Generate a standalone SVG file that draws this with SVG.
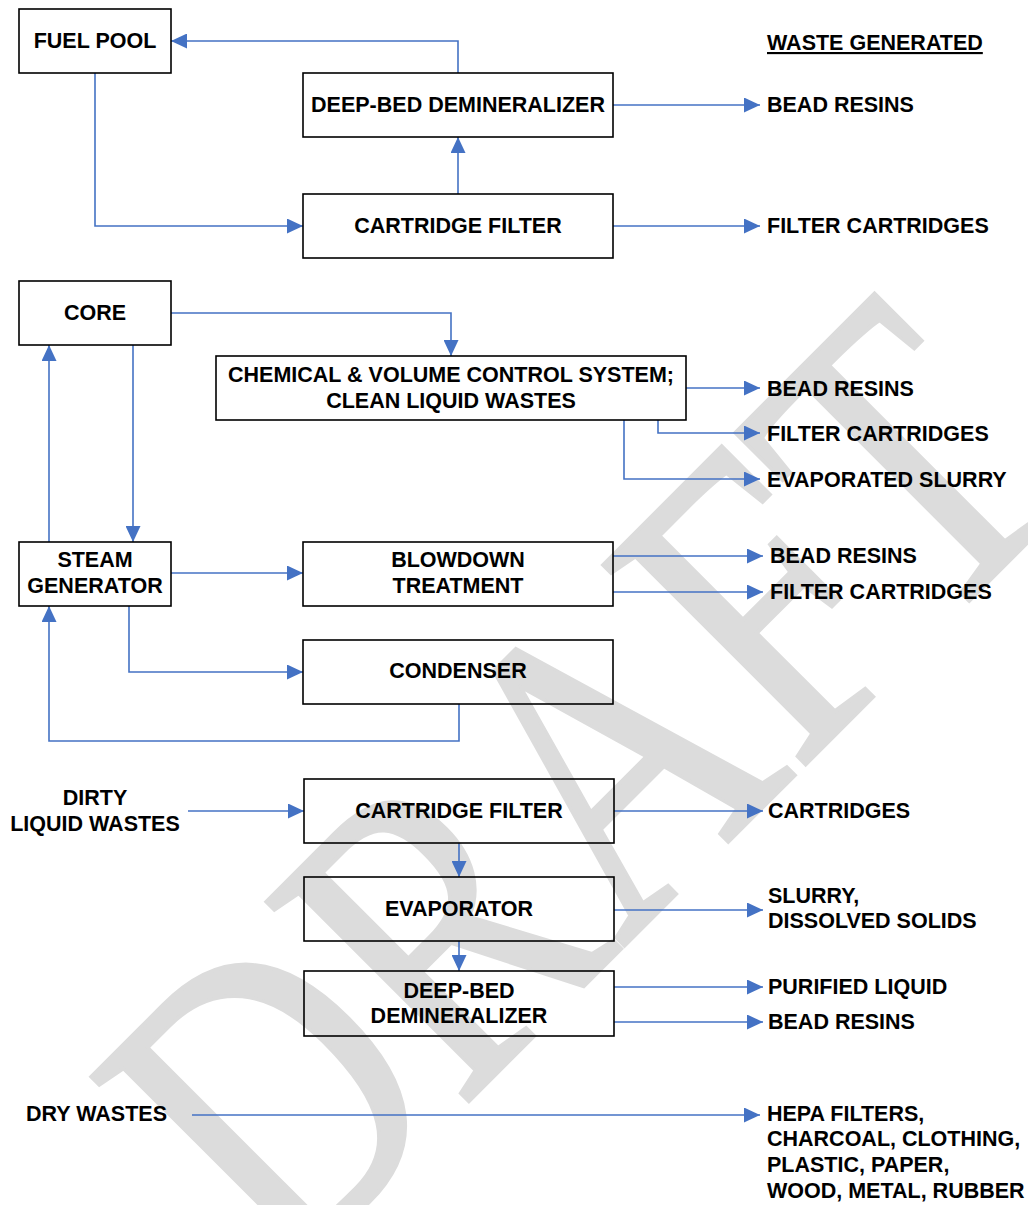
<svg xmlns="http://www.w3.org/2000/svg" width="1028" height="1205" viewBox="0 0 1028 1205">
<style>
.box{fill:none;stroke:#000;stroke-width:1.6}
.lbl{font-family:"Liberation Sans",Arial,sans-serif;font-weight:bold;font-size:21.5px;fill:#000}
.c{text-anchor:middle}
.conn path{fill:none;stroke:#4472C4;stroke-width:1.6;marker-end:url(#arr)}
.wm{font-family:"Liberation Serif","Times New Roman",serif;font-size:434px;fill:#dcdcdc;stroke:#dcdcdc;stroke-width:4}
</style>
<defs>
<marker id="arr" markerUnits="userSpaceOnUse" markerWidth="16" markerHeight="15" refX="16" refY="7.5" orient="auto">
<path d="M0,0 L16,7.5 L0,15 z" fill="#4472C4"/>
</marker>
</defs>
<rect width="1028" height="1205" fill="#fff"/>
<g id="watermark">
<text class="wm" transform="translate(285,1285) rotate(-45) scale(0.79,1)">DRAFT</text>
</g>
<g id="connectors" class="conn">
<path d="M458,73 V41 H171"/>
<path d="M95,73 V226 H303"/>
<path d="M458,194 V137"/>
<path d="M613,105 H760"/>
<path d="M613,226 H760"/>
<path d="M171,313 H451 V356"/>
<path d="M133,345 V542"/>
<path d="M49,542 V345"/>
<path d="M686,388 H760"/>
<path d="M658,420 V433 H760"/>
<path d="M624,420 V479 H760"/>
<path d="M171,573 H303"/>
<path d="M613,556 H763"/>
<path d="M613,592 H763"/>
<path d="M129,606 V672 H303"/>
<path d="M459,704 V741 H49 V606"/>
<path d="M188,811 H304"/>
<path d="M614,811 H763"/>
<path d="M459,843 V877"/>
<path d="M614,910 H763"/>
<path d="M459,941 V971"/>
<path d="M614,987 H763"/>
<path d="M614,1022 H763"/>
<path d="M192,1115 H760"/>
</g>
<g id="fuel-pool"><rect class="box" x="19" y="9" width="152" height="64"/><text class="lbl c" x="95" y="48">FUEL POOL</text></g>
<g id="waste-generated"><text class="lbl" x="767" y="50" text-decoration="underline">WASTE GENERATED</text></g>
<g id="deep-bed-1"><rect class="box" x="303" y="73" width="310" height="64"/><text class="lbl c" x="458" y="112">DEEP-BED DEMINERALIZER</text></g>
<g id="out-bead-1"><text class="lbl" x="767" y="112">BEAD RESINS</text></g>
<g id="cartridge-filter-1"><rect class="box" x="303" y="194" width="310" height="64"/><text class="lbl c" x="458" y="233">CARTRIDGE FILTER</text></g>
<g id="out-filter-1"><text class="lbl" x="767" y="233">FILTER CARTRIDGES</text></g>
<g id="core"><rect class="box" x="19" y="281" width="152" height="64"/><text class="lbl c" x="95" y="320">CORE</text></g>
<g id="cvcs"><rect class="box" x="216" y="356" width="470" height="64"/><text class="lbl c" x="451" y="382">CHEMICAL &amp; VOLUME CONTROL SYSTEM;</text><text class="lbl c" x="451" y="408">CLEAN LIQUID WASTES</text></g>
<g id="out-bead-2"><text class="lbl" x="767" y="396">BEAD RESINS</text></g>
<g id="out-filter-2"><text class="lbl" x="767" y="441">FILTER CARTRIDGES</text></g>
<g id="out-slurry"><text class="lbl" x="767" y="487">EVAPORATED SLURRY</text></g>
<g id="steam-generator"><rect class="box" x="19" y="542" width="152" height="64"/><text class="lbl c" x="95" y="567">STEAM</text><text class="lbl c" x="95" y="593">GENERATOR</text></g>
<g id="blowdown"><rect class="box" x="303" y="542" width="310" height="64"/><text class="lbl c" x="458" y="567">BLOWDOWN</text><text class="lbl c" x="458" y="593">TREATMENT</text></g>
<g id="out-bead-3"><text class="lbl" x="770" y="563">BEAD RESINS</text></g>
<g id="out-filter-3"><text class="lbl" x="770" y="599">FILTER CARTRIDGES</text></g>
<g id="condenser"><rect class="box" x="303" y="640" width="310" height="64"/><text class="lbl c" x="458" y="678">CONDENSER</text></g>
<g id="dirty-liquid"><text class="lbl c" x="95" y="805">DIRTY</text><text class="lbl c" x="95" y="831">LIQUID WASTES</text></g>
<g id="cartridge-filter-2"><rect class="box" x="304" y="779" width="310" height="64"/><text class="lbl c" x="459" y="818">CARTRIDGE FILTER</text></g>
<g id="out-cartridges"><text class="lbl" x="768" y="818">CARTRIDGES</text></g>
<g id="evaporator"><rect class="box" x="304" y="877" width="310" height="64"/><text class="lbl c" x="459" y="916">EVAPORATOR</text></g>
<g id="out-solids"><text class="lbl" x="768" y="903">SLURRY,</text><text class="lbl" x="768" y="928">DISSOLVED SOLIDS</text></g>
<g id="deep-bed-2"><rect class="box" x="304" y="971" width="310" height="65"/><text class="lbl c" x="459" y="998">DEEP-BED</text><text class="lbl c" x="459" y="1023">DEMINERALIZER</text></g>
<g id="out-purified"><text class="lbl" x="768" y="994">PURIFIED LIQUID</text></g>
<g id="out-bead-4"><text class="lbl" x="768" y="1029">BEAD RESINS</text></g>
<g id="dry-wastes"><text class="lbl" x="26" y="1121">DRY WASTES</text></g>
<g id="out-dry"><text class="lbl" x="767" y="1121">HEPA FILTERS,</text><text class="lbl" x="767" y="1146">CHARCOAL, CLOTHING,</text><text class="lbl" x="767" y="1172">PLASTIC, PAPER,</text><text class="lbl" x="767" y="1198">WOOD, METAL, RUBBER</text></g>
</svg>
